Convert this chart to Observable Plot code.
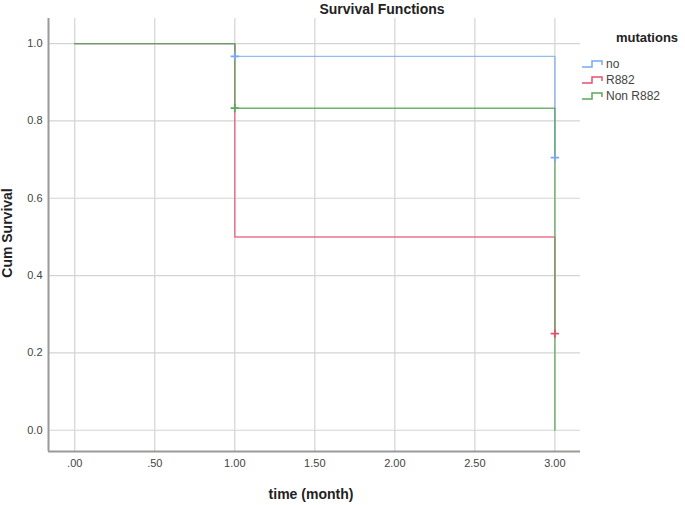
<!DOCTYPE html>
<html>
<head>
<meta charset="utf-8">
<script src="https://cdn.jsdelivr.net/npm/d3@7"></script>
<script src="https://cdn.jsdelivr.net/npm/@observablehq/plot@0.6"></script>
<style>
  html, body { margin: 0; padding: 0; background: #fff; }
  #chart svg { display: block; }
</style>
</head>
<body>
<div id="chart"></div>
<script>
// ---- data ----
const groups = ["no", "R882", "Non R882"];
const colors = ["#78a9ef", "#e3506f", "#5aa95a"];
const times = [0, 1, 3];
const survNo = [1.0, 0.967, 0.705];
const survR882 = [1.0, 0.5, 0.25];
const survNonR882 = [1.0, 0.833, 0.0];
// censored observations (time, survival)
const censorGroup = ["no", "no", "R882", "Non R882"];
const censorTime = [1, 3, 3, 1];
const censorSurv = [0.967, 0.705, 0.25, 0.833];
const xTicks = [0, 0.5, 1, 1.5, 2, 2.5, 3];
const yTicks = [0, 0.2, 0.4, 0.6, 0.8, 1.0];

const seriesVals = [survNo, survR882, survNonR882];
const steps = groups.flatMap((g, i) => times.map((t, j) => ({group: g, time: t, surv: seriesVals[i][j]})));
const censored = censorGroup.map((g, i) => ({group: g, time: censorTime[i], surv: censorSurv[i]}));

const xDomain = [-0.164, 3.16];
const yDomain = [-0.055, 1.065];

const fmtX = v => d3.format(".2f")(v).replace(/^0\./, ".");

const plot = Plot.plot({
  width: 685,
  height: 505,
  marginLeft: 48,
  marginRight: 105,
  marginTop: 18,
  marginBottom: 54,
  style: {fontFamily: "'Liberation Sans', Arial, sans-serif", fontSize: "11px", color: "#333", background: "#fff"},
  x: {domain: xDomain, ticks: xTicks, tickFormat: fmtX, tickSize: 0, tickPadding: 8, label: null},
  y: {domain: yDomain, ticks: yTicks, tickFormat: d3.format(".1f"), tickSize: 0, tickPadding: 6, label: null},
  color: {domain: groups, range: colors},
  marks: [
    Plot.gridX(xTicks, {stroke: "#d4d4d4", strokeOpacity: 1, strokeWidth: 1.2}),
    Plot.gridY(yTicks, {stroke: "#d4d4d4", strokeOpacity: 1, strokeWidth: 1.2}),
    Plot.ruleX([xDomain[0]], {stroke: "#9a9a9a", strokeWidth: 2}),
    Plot.ruleY([yDomain[0]], {stroke: "#9a9a9a", strokeWidth: 2}),
    Plot.axisX({ticks: xTicks, tickFormat: fmtX, tickSize: 0, tickPadding: 8, fill: "#444", label: null}),
    Plot.axisY({ticks: yTicks, tickFormat: d3.format(".1f"), tickSize: 0, tickPadding: 6, fill: "#444", label: null}),
    Plot.line(steps, {x: "time", y: "surv", z: "group", stroke: "group", curve: "step-after", strokeWidth: 1.4,
      strokeOpacity: d => d.group === "Non R882" ? 0.88 : 0.8}),
    Plot.dot(censored, {x: "time", y: "surv", stroke: "group", symbol: "plus", r: 2.8, strokeWidth: 1.8})
  ]
});

const svg = d3.select(plot);
const font = "'Liberation Sans', Arial, sans-serif";
svg.append("text").attr("x", 382).attr("y", 14).attr("text-anchor", "middle")
  .attr("font-family", font).attr("font-size", 14).attr("font-weight", "bold").attr("fill", "#222")
  .text("Survival Functions");
svg.append("text").attr("x", 311).attr("y", 499).attr("text-anchor", "middle")
  .attr("font-family", font).attr("font-size", 14).attr("font-weight", "bold").attr("fill", "#222")
  .text("time (month)");
svg.append("text").attr("transform", "translate(12,233) rotate(-90)").attr("text-anchor", "middle")
  .attr("font-family", font).attr("font-size", 14).attr("font-weight", "bold").attr("fill", "#222")
  .text("Cum Survival");

// legend
const lg = svg.append("g");
lg.append("text").attr("x", 647).attr("y", 42).attr("text-anchor", "middle")
  .attr("font-family", font).attr("font-size", 13).attr("font-weight", "bold").attr("fill", "#222")
  .text("mutations");
groups.forEach((g, i) => {
  const cy = 64 + i * 16;
  lg.append("path")
    .attr("d", `M582,${cy + 3}H592V${cy - 3}H602V${cy + 1}`)
    .attr("fill", "none").attr("stroke", colors[i]).attr("stroke-width", 1.5);
  lg.append("text").attr("x", 606).attr("y", cy + 4).attr("text-anchor", "start")
    .attr("font-family", font).attr("font-size", 12).attr("fill", "#444")
    .text(g);
});

document.getElementById("chart").appendChild(plot);
</script>
</body>
</html>
